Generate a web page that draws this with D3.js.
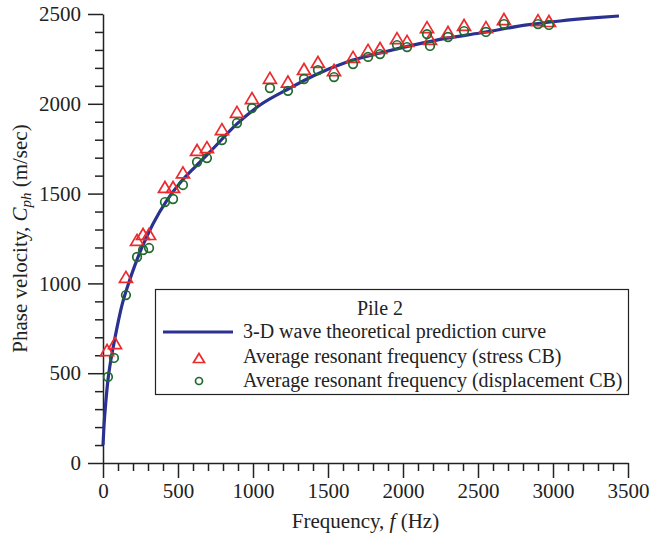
<!DOCTYPE html>
<html>
<head>
<meta charset="utf-8">
<script src="https://cdn.jsdelivr.net/npm/d3@7"></script>
<style>
  html, body { margin: 0; padding: 0; background: #fff; }
  svg { display: block; }
  text { font-family: "Liberation Serif", "Times New Roman", serif; fill: #222; }
</style>
</head>
<body>
<svg id="chart" width="651" height="539"></svg>
<script>
// ---- Data ----
const curveFreq = [0, 7, 20, 33, 47, 67, 93, 127, 167, 213, 267, 333, 427, 513, 613, 713, 893, 1047, 1247, 1400, 1627, 1847, 2067, 2293, 2513, 2827, 3047, 3267, 3440];
const curveVel  = [100, 212, 351, 462, 546, 640, 752, 880, 991, 1102, 1214, 1331, 1464, 1559, 1648, 1732, 1888, 1993, 2088, 2155, 2233, 2283, 2327, 2366, 2394, 2439, 2461, 2478, 2489];

const stressFreq = [27, 80, 153, 227, 267, 307, 413, 467, 533, 627, 693, 793, 893, 993, 1113, 1233, 1340, 1433, 1540, 1667, 1767, 1847, 1960, 2027, 2160, 2180, 2300, 2407, 2553, 2673, 2900, 2973];
const stressVel  = [629, 668, 1036, 1242, 1275, 1275, 1537, 1537, 1618, 1743, 1759, 1859, 1955, 2032, 2144, 2124, 2194, 2233, 2188, 2261, 2300, 2311, 2366, 2350, 2427, 2361, 2400, 2439, 2427, 2472, 2466, 2461];

const dispFreq = [33, 73, 153, 227, 267, 307, 413, 467, 533, 627, 693, 793, 893, 993, 1113, 1233, 1340, 1433, 1540, 1667, 1767, 1847, 1960, 2027, 2160, 2180, 2300, 2407, 2553, 2673, 2900, 2973];
const dispVel  = [479, 585, 935, 1147, 1186, 1197, 1453, 1470, 1548, 1676, 1698, 1798, 1893, 1976, 2088, 2072, 2138, 2188, 2149, 2221, 2261, 2277, 2327, 2316, 2388, 2322, 2372, 2405, 2400, 2444, 2444, 2439];

const xMajorTicks = [0, 500, 1000, 1500, 2000, 2500, 3000, 3500];
const yMajorTicks = [0, 500, 1000, 1500, 2000, 2500];
const legendTitle = "Pile 2";
const legendLabels = ["3-D wave theoretical prediction curve", "Average resonant frequency (stress CB)", "Average resonant frequency (displacement CB)"];

// ---- Layout ----
const svg = d3.select("#chart");
const x = d3.scaleLinear().domain([0, 3500]).range([103, 628]);
const y = d3.scaleLinear().domain([0, 2500]).range([463, 14]);

const colCurve = "#2a3190";
const colStress = "#ec2a2e";
const colDisp = "#1f6a2c";
const axisCol = "#222";

const xMinor = d3.range(0, 3501, 100).filter(v => v % 500 !== 0);
const yMinor = d3.range(0, 2501, 100).filter(v => v % 500 !== 0);

// X axis
const gx = svg.append("g").attr("transform", `translate(0,${y(0)})`);
gx.call(d3.axisBottom(x).tickValues(xMajorTicks).tickSize(15).tickSizeOuter(0).tickPadding(5).tickFormat(d3.format("d")));
gx.append("g").call(d3.axisBottom(x).tickValues(xMinor).tickSize(8).tickFormat("")).select(".domain").remove();
gx.selectAll("line, path").attr("stroke", axisCol).attr("stroke-width", 1.5);
gx.selectAll("text").attr("font-size", 21).attr("font-family", "Liberation Serif").attr("fill", "#222");

// Y axis
const gy = svg.append("g").attr("transform", `translate(${x(0)},0)`);
gy.call(d3.axisLeft(y).tickValues(yMajorTicks).tickSize(15).tickSizeOuter(0).tickPadding(7).tickFormat(d3.format("d")));
gy.append("g").call(d3.axisLeft(y).tickValues(yMinor).tickSize(8).tickFormat("")).select(".domain").remove();
gy.selectAll("line, path").attr("stroke", axisCol).attr("stroke-width", 1.5);
gy.selectAll("text").attr("font-size", 21).attr("font-family", "Liberation Serif").attr("fill", "#222");

// Axis titles
const xt = svg.append("text").attr("x", (x(0) + x(3500)) / 2).attr("y", 528)
  .attr("text-anchor", "middle").attr("font-size", 21);
xt.append("tspan").text("Frequency, ");
xt.append("tspan").attr("font-style", "italic").text("f");
xt.append("tspan").text(" (Hz)");

const yt = svg.append("text").attr("transform", `translate(27,${(y(0) + y(2500)) / 2}) rotate(-90)`)
  .attr("text-anchor", "middle").attr("font-size", 21);
yt.append("tspan").text("Phase velocity, ");
yt.append("tspan").attr("font-style", "italic").text("C");
yt.append("tspan").attr("font-style", "italic").attr("font-size", 15).attr("dy", 4).text("ph");
yt.append("tspan").attr("dy", -4).text(" (m/sec)");

// Curve
const curveData = curveFreq.map((f, i) => [f, curveVel[i]]);
svg.append("path").datum(curveData)
  .attr("fill", "none").attr("stroke", colCurve).attr("stroke-width", 3.2)
  .attr("d", d3.line().x(d => x(d[0])).y(d => y(d[1])).curve(d3.curveMonotoneX));

// Markers
function triPath(cx, cy, w, h) {
  return `M${cx},${cy - h / 2}L${cx + w / 2},${cy + h / 2}L${cx - w / 2},${cy + h / 2}Z`;
}
const stressData = stressFreq.map((f, i) => [f, stressVel[i]]);
const dispData = dispFreq.map((f, i) => [f, dispVel[i]]);

svg.append("g").selectAll("path").data(stressData).join("path")
  .attr("d", d => triPath(x(d[0]), y(d[1]), 13, 11))
  .attr("fill", "none").attr("stroke", colStress).attr("stroke-width", 1.7);

svg.append("g").selectAll("circle").data(dispData).join("circle")
  .attr("cx", d => x(d[0])).attr("cy", d => y(d[1])).attr("r", 4.3)
  .attr("fill", "none").attr("stroke", colDisp).attr("stroke-width", 1.7);

// Legend
const lg = svg.append("g");
lg.append("rect").attr("x", 155.5).attr("y", 289.5).attr("width", 473).attr("height", 105)
  .attr("fill", "#fff").attr("stroke", "#222").attr("stroke-width", 1.2);
lg.append("text").attr("x", 380).attr("y", 315).attr("text-anchor", "middle").attr("font-size", 20).text(legendTitle);
lg.append("line").attr("x1", 163).attr("x2", 233).attr("y1", 332).attr("y2", 332)
  .attr("stroke", colCurve).attr("stroke-width", 3);
lg.append("text").attr("x", 243).attr("y", 338).attr("font-size", 20).text(legendLabels[0]);
lg.append("path").attr("d", triPath(199, 358, 11, 9)).attr("fill", "none").attr("stroke", colStress).attr("stroke-width", 1.7);
lg.append("text").attr("x", 243).attr("y", 363).attr("font-size", 20).text(legendLabels[1]);
lg.append("circle").attr("cx", 199).attr("cy", 381).attr("r", 3.5).attr("fill", "none").attr("stroke", colDisp).attr("stroke-width", 1.7);
lg.append("text").attr("x", 243).attr("y", 387).attr("font-size", 20).text(legendLabels[2]);
</script>
</body>
</html>
